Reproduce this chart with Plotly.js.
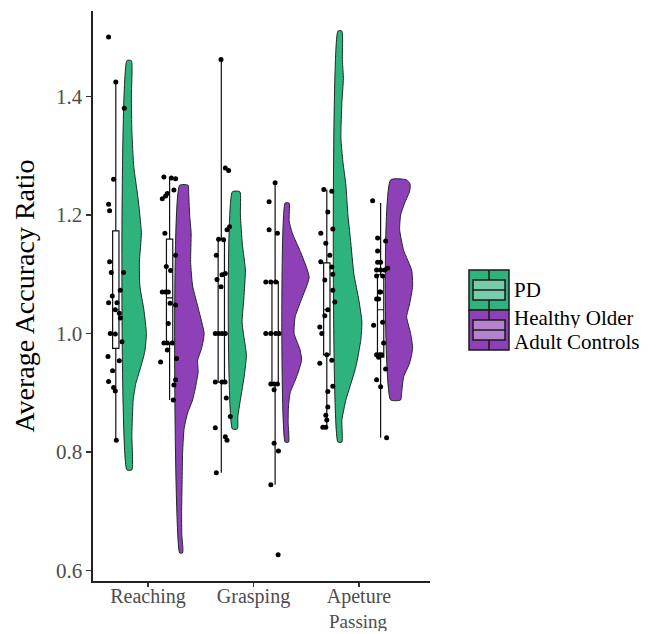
<!DOCTYPE html>
<html><head><meta charset="utf-8">
<script src="https://cdn.plot.ly/plotly-3.0.1.min.js"></script>
<style>html,body{margin:0;padding:0;background:#fff}#chart{width:657px;height:634px}</style>
</head><body><div id="chart"></div>
<script>
// ---------------- data ----------------
const categories = ['Reaching', 'Grasping', 'Apeture'];
const categorySecondLine = ['', '', 'Passing'];
const legendLabels = ['PD', 'Healthy Older', 'Adult Controls'];
const yTickVals = [0.6, 0.8, 1.0, 1.2, 1.4];
const yTickText = ['0.6', '0.8', '1.0', '1.2', '1.4'];

// boxplot statistics (Reaching, Grasping, Apeture Passing)
const pdLower  = [0.820, 0.765, 0.842];
const pdQ1     = [0.975, 0.918, 0.964];
const pdMedian = [1.040, 1.000, 1.040];
const pdQ3     = [1.173, 1.159, 1.119];
const pdUpper  = [1.424, 1.462, 1.243];
const hcLower  = [0.888, 0.745, 0.824];
const hcQ1     = [0.984, 0.913, 0.960];
const hcMedian = [1.060, 1.000, 1.040];
const hcQ3     = [1.159, 1.087, 1.099];
const hcUpper  = [1.262, 1.254, 1.220];

// individual points: value and horizontal jitter
const pdReachY = [1.500,1.424,1.380,1.260,1.218,1.207,1.121,1.103,1.103,1.073,1.063,1.052,1.052,1.040,1.034,1.026,1.000,0.999,0.986,0.961,0.954,0.937,0.919,0.909,0.903,0.820];
const pdReachJ = [-7.2,0,8.5,-2.2,-7.2,-6.2,-6.2,-4.5,7.8,4.5,-3.5,-7.2,1.2,-0.5,3.5,4.5,-5.5,-0.5,6.2,-7.8,3.5,-3.2,-7.2,-2.2,-0.5,0.5];
const hcReachY = [1.264,1.262,1.261,1.242,1.236,1.232,1.227,1.169,1.132,1.113,1.106,1.070,1.070,1.070,1.051,1.048,1.017,0.984,0.984,0.984,0.972,0.958,0.952,0.922,0.913,0.888];
const hcReachJ = [-5.7,1.7,6,4.3,-2.3,-4,-7.3,-4.7,6,-3.3,1,-7.3,-4,-1.3,0.5,6,-1.3,-5.7,-2.3,2.7,-2.3,7,-9,6,4.3,3.7];
const pdGraspY = [1.462,1.279,1.275,1.180,1.175,1.159,1.158,1.132,1.101,1.099,1.091,1.079,1.000,1.000,1.000,1.000,0.918,0.918,0.918,0.891,0.860,0.841,0.826,0.820,0.765];
const pdGraspJ = [-0.3,4,7.3,8.3,5.7,-2.7,2.3,-5,4,0.7,-4.3,-0.3,-6,-2.7,0.7,4,-6,0.7,3.7,5,9,-6,4,5.7,-5];
const hcGraspY = [1.254,1.222,1.175,1.169,1.087,1.087,1.087,1.000,1.000,1.000,1.000,0.915,0.915,0.915,0.905,0.815,0.802,0.745,0.627];
const hcGraspJ = [0,-6,-6,2.3,-9.3,-4.3,0.7,-9.3,-4.3,0.7,4,-4.3,-1,2.3,-1,-1,3.3,-4.3,3];
const pdApeY = [1.243,1.240,1.205,1.176,1.169,1.152,1.132,1.121,1.112,1.100,1.090,1.073,1.053,1.040,1.030,1.011,1.000,0.964,0.955,0.950,0.911,0.902,0.876,0.862,0.854,0.842,0.842];
const pdApeJ = [-3,5,1,6,-6,-1,3,-6,5,6,-2,6,8,1,-2,-7,-5,0,5,-7,6,1,1,-1,0,-4,-1];
const hcApeY = [1.224,1.161,1.156,1.139,1.120,1.120,1.110,1.107,1.107,1.107,1.097,1.097,1.070,1.070,1.058,1.058,1.019,1.014,0.984,0.964,0.964,0.964,0.960,0.940,0.922,0.910,0.824];
const hcApeJ = [-8,-3,5,-3,-3,0,7,-4,0,4,-4,2,-1,0,-4,-2,2,-7,3,-4,-1,1,-2,5,-4,0,6];

// half-violin density profiles (value, relative density)
const pdReachVioY = [1.46,1.40,1.34,1.28,1.23,1.17,1.12,1.08,1.04,1.00,0.97,0.944,0.916,0.888,0.83,0.77];
const pdReachVioD = [4.5,4.5,5,7,11,14.5,12.5,13,17,19.5,18,14,9,6.3,5,5];
const hcReachVioY = [1.25,1.24,1.20,1.17,1.12,1.08,1.04,1.00,0.975,0.955,0.935,0.91,0.888,0.866,0.84,0.80,0.75,0.70,0.66,0.64,0.63];
const hcReachVioD = [8.5,9,10,11.5,11,13,19,24.5,22,18,18.5,16,13,8,4.5,3,2.5,2,2.2,3.2,3];
const pdGraspVioY = [1.239,1.20,1.15,1.107,1.06,1.02,1.00,0.964,0.93,0.888,0.86,0.839];
const pdGraspVioD = [7.5,8,10,13,11.5,9.7,11,14,12,8,5.5,5];
const hcGraspVioY = [1.22,1.19,1.17,1.135,1.095,1.056,1.028,1.00,0.972,0.955,0.927,0.90,0.876,0.85,0.817];
const hcGraspVioD = [4,4,7,16,24,16,10,9,15,16.5,11.5,5,3.3,3,3.5];
const pdApeVioY = [1.51,1.46,1.43,1.39,1.33,1.29,1.25,1.20,1.16,1.10,1.056,1.02,0.99,0.944,0.91,0.888,0.854,0.817];
const pdApeVioD = [4,4.5,5.5,4,3,5,8,10,12.5,16,21,24,23,18,12,8,4,4];
const hcApeVioY = [1.259,1.252,1.24,1.22,1.20,1.175,1.14,1.107,1.08,1.05,1.028,1.00,0.975,0.95,0.927,0.90,0.888];
const hcApeVioD = [16,19.5,19,14,10,9,13,21,22,19,16,20,22,19,13,11,10];

// ---------------- layout / styling ----------------
const W = 657, H = 634, ML = 93, MR = 227, MT = 11, MB = 53;
const plotW = W - ML - MR, plotH = H - MT - MB;
const xRange = [0.479, 3.673];
const yRange = [0.5826, 1.5438];
const unit = plotW / (xRange[1] - xRange[0]);   // px per x unit
const catPos = [1, 2, 3];
const PD_BOX = -0.305, PD_VIO = -0.2, HC_BOX = 0.205, HC_VIO = 0.3;
const GREEN = '#2FB37D', PURPLE = '#8E40B7', OUTLINE = '#1f2a24';
const FONT = 'Liberation Serif, Times New Roman, serif';

const traces = [];
function violin(ci, off, ys, ds, color) {
  const base = catPos[ci] + off;
  const x = [base], y = [ys[0]];
  ys.forEach((v, i) => { x.push(base + ds[i] / unit); y.push(v); });
  x.push(base); y.push(ys[ys.length - 1]);
  x.push(base); y.push(ys[0]);
  traces.push({type: 'scatter', mode: 'lines', x, y, fill: 'toself', fillcolor: color,
    line: {color: OUTLINE, width: 1, shape: 'spline', smoothing: 0.5}, hoverinfo: 'skip', showlegend: false});
}
violin(0, PD_VIO, pdReachVioY, pdReachVioD, GREEN);
violin(0, HC_VIO, hcReachVioY, hcReachVioD, PURPLE);
violin(1, PD_VIO, pdGraspVioY, pdGraspVioD, GREEN);
violin(1, HC_VIO, hcGraspVioY, hcGraspVioD, PURPLE);
violin(2, PD_VIO, pdApeVioY, pdApeVioD, GREEN);
violin(2, HC_VIO, hcApeVioY, hcApeVioD, PURPLE);

function box(off, lo, q1, med, q3, hi) {
  traces.push({type: 'box', orientation: 'v', x: catPos.map(c => c + off),
    lowerfence: lo, q1: q1, median: med, q3: q3, upperfence: hi,
    width: 0.06, whiskerwidth: 0, boxpoints: false,
    fillcolor: 'rgba(255,255,255,0.85)', line: {color: '#111', width: 1.2},
    hoverinfo: 'skip', showlegend: false});
}
box(PD_BOX, pdLower, pdQ1, pdMedian, pdQ3, pdUpper);
box(HC_BOX, hcLower, hcQ1, hcMedian, hcQ3, hcUpper);

function points(ci, off, ys, js) {
  traces.push({type: 'scatter', mode: 'markers', x: ys.map((v, i) => catPos[ci] + off + js[i] / unit), y: ys,
    marker: {color: '#000', size: 5}, hoverinfo: 'skip', showlegend: false});
}
points(0, PD_BOX, pdReachY, pdReachJ);
points(0, HC_BOX, hcReachY, hcReachJ);
points(1, PD_BOX, pdGraspY, pdGraspJ);
points(1, HC_BOX, hcGraspY, hcGraspJ);
points(2, PD_BOX, pdApeY, pdApeJ);
points(2, HC_BOX, hcApeY, hcApeJ);

// legend (drawn as shapes + text)
const px = p => (p - ML) / plotW;
const py = p => (H - MB - p) / plotH;
const shapes = [];
function key(top, color) {
  const l = 469, r = 509, b = top + 40;
  const common = {xref: 'paper', yref: 'paper'};
  shapes.push(Object.assign({type: 'rect', x0: px(l), x1: px(r), y0: py(top), y1: py(b), fillcolor: color, line: {color: '#1a1a1a', width: 1.5}}, common));
  shapes.push(Object.assign({type: 'rect', x0: px(l + 4), x1: px(r - 4), y0: py(top + 10), y1: py(top + 30), fillcolor: 'rgba(255,255,255,0.35)', line: {color: '#1a1a1a', width: 1.5}}, common));
  shapes.push(Object.assign({type: 'line', x0: px(l + 4), x1: px(r - 4), y0: py(top + 20), y1: py(top + 20), line: {color: '#1a1a1a', width: 1.5}}, common));
  shapes.push(Object.assign({type: 'line', x0: px((l + r) / 2), x1: px((l + r) / 2), y0: py(top), y1: py(top + 10), line: {color: '#1a1a1a', width: 1.5}}, common));
  shapes.push(Object.assign({type: 'line', x0: px((l + r) / 2), x1: px((l + r) / 2), y0: py(top + 30), y1: py(b), line: {color: '#1a1a1a', width: 1.5}}, common));
}
key(270, GREEN);
key(310, PURPLE);
const annotations = [
  {text: legendLabels[0], x: px(513), y: py(290)},
  {text: legendLabels[1], x: px(513), y: py(318)},
  {text: legendLabels[2], x: px(513), y: py(342)}
].map(a => Object.assign(a, {xref: 'paper', yref: 'paper', xanchor: 'left', yanchor: 'middle', showarrow: false,
  height: 20, valign: 'middle', borderpad: 0, font: {family: FONT, size: 21, color: '#000'}}));
categorySecondLine.forEach((t, i) => {
  if (t) annotations.push({text: t, xref: 'x', yref: 'paper', x: catPos[i], y: py(621), xanchor: 'center', yanchor: 'middle',
    showarrow: false, height: 19, valign: 'middle', borderpad: 0, font: {family: FONT, size: 19, color: '#4d4d4d'}});
});

const layout = {
  width: W, height: H,
  margin: {l: ML, r: MR, t: MT, b: MB, pad: 0},
  paper_bgcolor: '#fff', plot_bgcolor: '#fff',
  showlegend: false,
  boxmode: 'overlay',
  font: {family: FONT},
  xaxis: {range: xRange, tickvals: catPos, ticktext: categories, showgrid: false, zeroline: false,
    showline: true, linecolor: '#222', linewidth: 1.6, ticks: 'outside', ticklen: 4, tickwidth: 1.3, tickcolor: '#333',
    ticklabelstandoff: -8,
    tickfont: {family: FONT, size: 20, color: '#4d4d4d'}, automargin: false, fixedrange: true},
  yaxis: {range: yRange, tickvals: yTickVals, ticktext: yTickText, showgrid: false, zeroline: false,
    showline: true, linecolor: '#222', linewidth: 1.6, ticks: 'outside', ticklen: 5, tickwidth: 1.3, tickcolor: '#333',
    tickfont: {family: FONT, size: 21, color: '#4d4d4d'}, automargin: false, fixedrange: true,
    title: {text: 'Average Accuracy Ratio', font: {family: FONT, size: 28, color: '#000'}, standoff: 13}},
  shapes: shapes,
  annotations: annotations
};

Plotly.newPlot('chart', traces, layout, {displayModeBar: false, staticPlot: true});
</script>
</body></html>
